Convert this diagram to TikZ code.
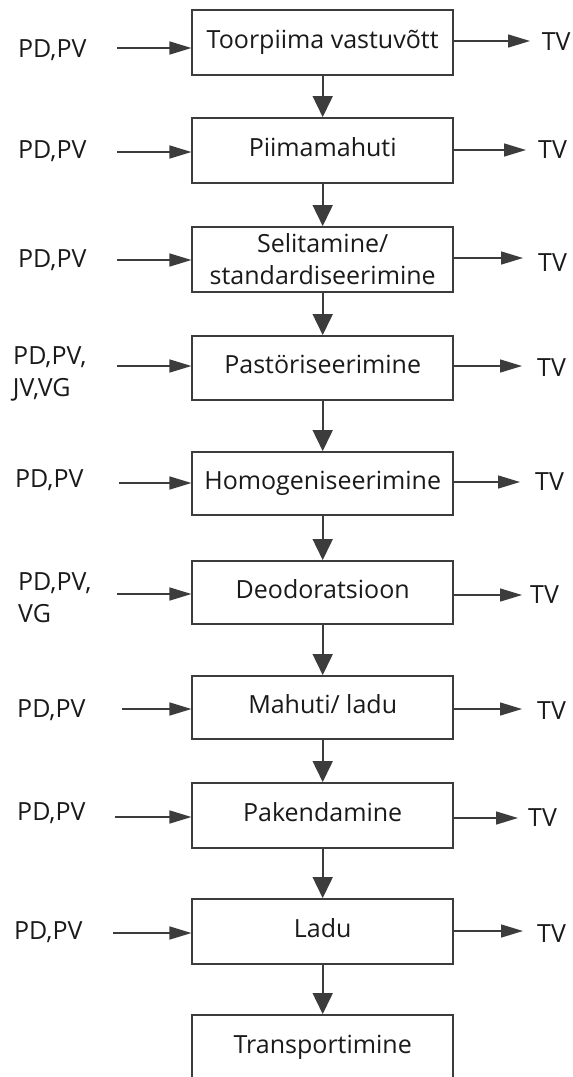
\documentclass[tikz,border=0pt]{standalone}
\usepackage{fontspec}
\setmainfont{Open Sans}
\usetikzlibrary{arrows.meta}
\definecolor{ln}{HTML}{3C3C3C}
\definecolor{txt}{HTML}{1A1A1A}
\begin{document}
\begin{tikzpicture}[x=1pt,y=-1pt,
  procbase/.style={draw=ln, line width=1.8pt, minimum width=260.7pt, minimum height=65pt, inner sep=0pt, text=txt, font=\fontsize{25}{32}\selectfont},
  procbox/.style={procbase, text height=18pt, text depth=7pt},
  lbl/.style={anchor=base west, inner sep=0pt, text=txt, font=\fontsize{25}{32}\selectfont},
  flow/.style={draw=ln, line width=1.6pt, -{Triangle[length=21pt,width=20pt]}},
  side/.style={draw=ln, line width=1.5pt, -{Triangle[length=22pt,width=13pt]}}]
\path[use as bounding box, clip] (0,0) rectangle (573,1077);
\fill[white] (0,0) rectangle (573,1077);

% process boxes
\node[procbox] (b1) at (322.7,42.5) {Toorpiima vastuvõtt};
\node[procbox] (b2) at (322.7,150.5) {Piimamahuti};
\node[procbase, align=center] (b3) at (322.7,259.5) {Selitamine/\\standardiseerimine};
\node[procbox, minimum height=64pt] (b4) at (322.7,368) {Pastöriseerimine};
\node[procbox, minimum height=63pt] (b5) at (322.7,483.5) {Homogeniseerimine};
\node[procbox, minimum height=63pt] (b6) at (322.7,592.5) {Deodoratsioon};
\node[procbox, minimum height=63pt] (b7) at (322.7,707.5) {Mahuti/ ladu};
\node[procbox] (b8) at (322.7,815.5) {Pakendamine};
\node[procbox] (b9) at (322.7,931.5) {Ladu};
\node[procbox] (b10) at (322.7,1047.5) {Transportimine};

% down flow
\foreach \a/\b in {b1/b2,b2/b3,b3/b4,b4/b5,b5/b6,b6/b7,b7/b8,b8/b9,b9/b10}
  \draw[flow] (\a.south) -- (\b.north);

% left labels
\node[lbl] (l1) at (18,57.3) {PD,PV};
\node[lbl] (l2) at (18,158) {PD,PV};
\node[lbl] (l3) at (18,267) {PD,PV};
\node[lbl] (l4a) at (13,364) {PD,PV,};
\node[lbl] (l4b) at (12.7,396) {JV,VG};
\node[lbl] (l5) at (15,487) {PD,PV};
\node[lbl] (l6a) at (18,590) {PD,PV,};
\node[lbl] (l6b) at (18,622) {VG};
\node[lbl] (l7) at (17,717) {PD,PV};
\node[lbl] (l8) at (17,820) {PD,PV};
\node[lbl] (l9) at (14,939) {PD,PV};

% input arrow starts
\coordinate (in1) at (117,48);
\coordinate (in2) at (117,152);
\coordinate (in3) at (117,260);
\coordinate (in4) at (117,366);
\coordinate (in5) at (119,483);
\coordinate (in6) at (117,594);
\coordinate (in7) at (122,709);
\coordinate (in8) at (115,817);
\coordinate (in9) at (113,933);
\foreach \i in {1,...,9}
  \draw[side] (in\i) -- (in\i -| b\i.west);

% output arrow tips
\coordinate (out1) at (530,41);
\coordinate (out2) at (526,150);
\coordinate (out3) at (523,258);
\coordinate (out4) at (522,366);
\coordinate (out5) at (520,482);
\coordinate (out6) at (522,595);
\coordinate (out7) at (522,709);
\coordinate (out8) at (518,818);
\coordinate (out9) at (523,931);
\foreach \i in {1,...,9}
  \draw[side] (b\i.east |- out\i) -- (out\i);

% TV labels
\node[lbl] (tv1) at (541.7,50) {TV};
\node[lbl] (tv2) at (538,158) {TV};
\node[lbl] (tv3) at (538,271) {TV};
\node[lbl] (tv4) at (537,376) {TV};
\node[lbl] (tv5) at (535,490) {TV};
\node[lbl] (tv6) at (530,603) {TV};
\node[lbl] (tv7) at (537,719) {TV};
\node[lbl] (tv8) at (528,826) {TV};
\node[lbl] (tv9) at (537,942) {TV};
\end{tikzpicture}
\end{document}
